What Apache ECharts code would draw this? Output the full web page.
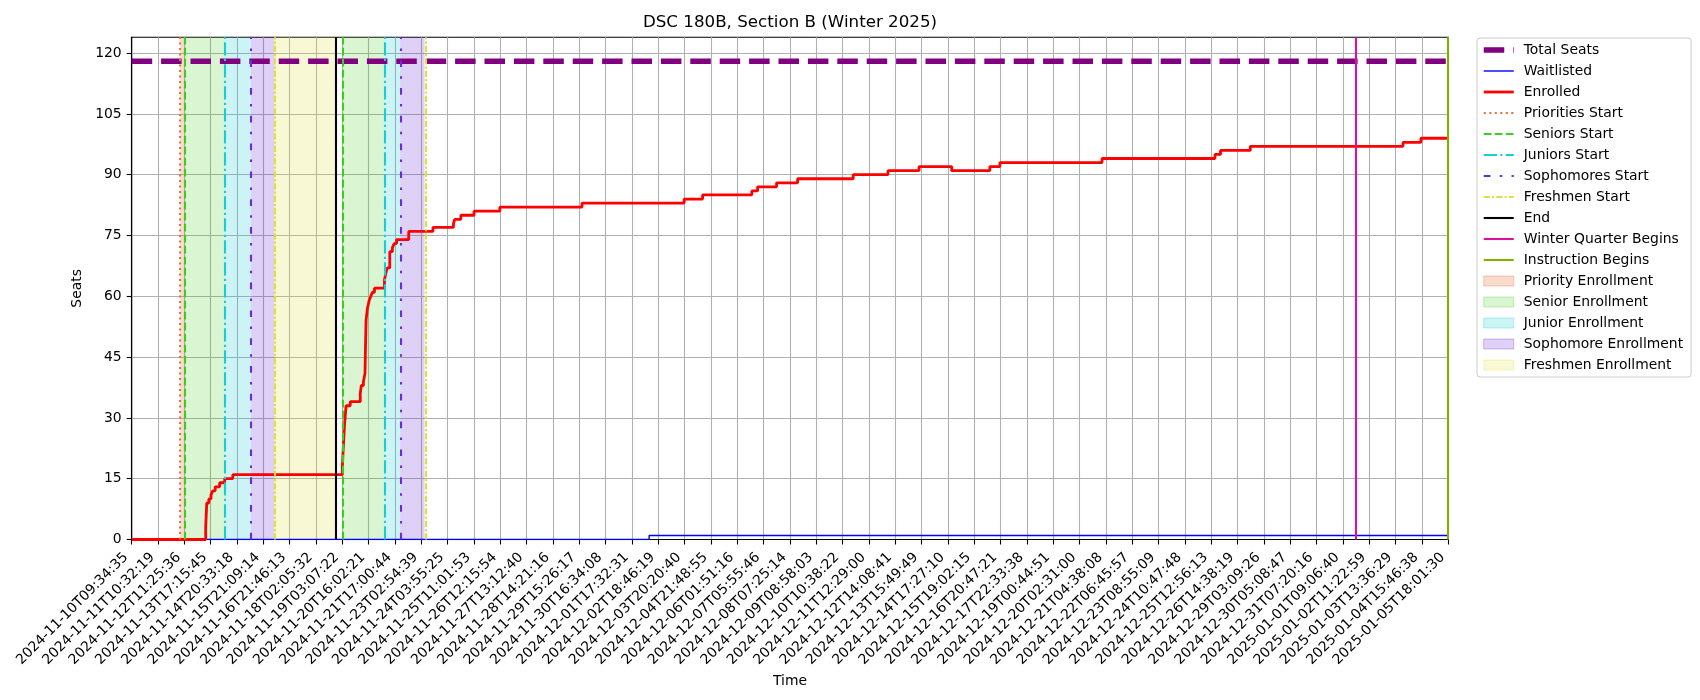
<!DOCTYPE html>
<html>
<head>
<meta charset="utf-8">
<script src="https://cdn.jsdelivr.net/npm/echarts@6/dist/echarts.min.js"></script>
<style>
html,body{margin:0;padding:0;background:#fff;}
#chart{width:1700px;height:700px;}
</style>
</head>
<body>
<div id="chart"></div>
<script>
// ---- Data (x positions in tick-index units along the sampled time axis) ----
const tickLabels = [
  '2024-11-10T09:34:35','2024-11-11T10:32:19','2024-11-12T11:25:36','2024-11-13T17:15:45',
  '2024-11-14T20:33:18','2024-11-15T21:09:14','2024-11-16T21:46:13','2024-11-18T02:05:32',
  '2024-11-19T03:07:22','2024-11-20T16:02:21','2024-11-21T17:00:44','2024-11-23T02:54:39',
  '2024-11-24T03:55:25','2024-11-25T11:01:53','2024-11-26T12:15:54','2024-11-27T13:12:40',
  '2024-11-28T14:21:16','2024-11-29T15:26:17','2024-11-30T16:34:08','2024-12-01T17:32:31',
  '2024-12-02T18:46:19','2024-12-03T20:20:40','2024-12-04T21:48:55','2024-12-06T01:51:16',
  '2024-12-07T05:55:46','2024-12-08T07:25:14','2024-12-09T08:58:03','2024-12-10T10:38:22',
  '2024-12-11T12:29:00','2024-12-12T14:08:41','2024-12-13T15:49:49','2024-12-14T17:27:10',
  '2024-12-15T19:02:15','2024-12-16T20:47:21','2024-12-17T22:33:38','2024-12-19T00:44:51',
  '2024-12-20T02:31:00','2024-12-21T04:38:08','2024-12-22T06:45:57','2024-12-23T08:55:09',
  '2024-12-24T10:47:48','2024-12-25T12:56:13','2024-12-26T14:38:19','2024-12-29T03:09:26',
  '2024-12-30T05:08:47','2024-12-31T07:20:16','2025-01-01T09:06:40','2025-01-02T11:22:59',
  '2025-01-03T13:36:29','2025-01-04T15:46:38','2025-01-05T18:01:30'
];
const yTicks = [0, 15, 30, 45, 60, 75, 90, 105, 120];

const enrolledX = [0, 2.81, 2.85, 2.93, 3.01, 3.08, 3.17, 3.34, 3.53, 3.84,
  8.0, 8.03, 8.08, 8.14, 8.3, 8.68, 8.72, 8.8, 8.86, 8.88, 8.9, 8.95, 9.02, 9.08, 9.14, 9.22,
  9.6, 9.66, 9.71, 9.8, 9.9, 9.97, 10.06, 10.52, 11.44, 12.22, 12.27, 12.5, 13.0, 13.98,
  17.1, 20.98, 21.68, 23.55, 23.77, 24.49, 25.29, 27.4, 28.72, 29.9, 31.14, 32.59, 32.97,
  36.85, 41.14, 41.35, 42.48, 48.28, 48.96, 50];
const enrolledY = [0, 3, 9, 10, 11, 12, 13, 14, 15, 16,
  18, 22, 28, 33, 34, 36, 38, 39, 41, 48, 54, 57, 59, 60, 61, 62,
  64, 66, 67, 71, 72, 73, 74, 76, 77, 78, 79, 80, 81, 82,
  83, 84, 85, 86, 87, 88, 89, 90, 91, 92, 91, 92, 93,
  94, 95, 96, 97, 98, 99, 99];

const waitlistX = [0, 19.65, 50];
const waitlistY = [0, 1, 1];

const totalSeats = 118;

const prioritiesStart = [1.84];
const seniorsStart = [2.0, 8.0];
const juniorsStart = [3.55, 9.6];
const sophomoresStart = [4.53, 10.2];
const freshmenStart = [5.42, 11.17];
const endMarks = [7.76];
const winterBegins = [46.5];
const instructionBegins = [49.97];

const priorityRegions = [[1.84, 2.0]];
const seniorRegions = [[2.0, 3.55], [8.0, 9.6]];
const juniorRegions = [[3.55, 4.53], [9.6, 10.2]];
const sophomoreRegions = [[4.53, 5.42], [10.2, 11.12]];
const freshmenRegions = [[5.42, 7.76]];

// ---- Styling helpers ----
const FONT = 'DejaVu Sans';
const FS = 13.9;

function pairs(xs, ys) { return xs.map((x, i) => [x, ys[i]]); }

function vlineSeries(name, xs, color, width, dash) {
  return {
    name: name, type: 'line', data: [], symbol: 'none', z: 5,
    itemStyle: { color: color }, lineStyle: { color: color, width: width, type: dash },
    markLine: {
      silent: true, symbol: ['none', 'none'], label: { show: false },
      lineStyle: { color: color, width: width, type: dash, opacity: 1 },
      emphasis: { disabled: true },
      data: xs.map(x => ({ xAxis: x }))
    }
  };
}
function regionSeries(name, ranges, rgba) {
  return {
    name: name, type: 'line', data: [], symbol: 'none', z: 1,
    itemStyle: { color: rgba }, lineStyle: { color: rgba, width: 0 },
    markArea: {
      silent: true, itemStyle: { color: rgba }, emphasis: { disabled: true },
      data: ranges.map(r => [{ xAxis: r[0] }, { xAxis: r[1] }])
    }
  };
}

const C = {
  pri: '#e8713c', sen: '#3fcc1f', jun: '#19cdd6', soph: '#6a2bd9', fresh: '#dfe03d',
  end: '#000000', winter: '#d9129b', instr: '#82b000'
};
const R = {
  pri: 'rgba(232,113,60,0.25)', sen: 'rgba(63,204,31,0.2)', jun: 'rgba(25,205,214,0.22)',
  soph: 'rgba(106,43,217,0.22)', fresh: 'rgba(223,224,61,0.22)'
};
const RB = {
  pri: 'rgba(232,113,60,0.35)', sen: 'rgba(63,204,31,0.3)', jun: 'rgba(25,205,214,0.3)',
  soph: 'rgba(106,43,217,0.3)', fresh: 'rgba(223,224,61,0.3)'
};

const series = [
  { name: 'Total Seats', type: 'line', symbol: 'none', z: 3,
    data: [[0, totalSeats], [50, totalSeats]],
    itemStyle: { color: '#800080' }, lineStyle: { color: '#800080', width: 5.5, type: [20.5, 8.9] } },
  { name: 'Waitlisted', type: 'line', symbol: 'none', step: 'end', z: 3,
    data: pairs(waitlistX, waitlistY),
    itemStyle: { color: '#0000ff' }, lineStyle: { color: '#0000ff', width: 1.4 } },
  { name: 'Enrolled', type: 'line', symbol: 'none', step: 'end', z: 4,
    data: pairs(enrolledX, enrolledY),
    itemStyle: { color: '#ff0000' }, lineStyle: { color: '#ff0000', width: 2.8 } },
  vlineSeries('Priorities Start', prioritiesStart, C.pri, 2.08, [2.1, 3.4]),
  vlineSeries('Seniors Start', seniorsStart, C.sen, 2.08, [7.7, 3.3]),
  vlineSeries('Juniors Start', juniorsStart, C.jun, 2.08, [13.3, 3.3, 2.1, 3.3]),
  vlineSeries('Sophomores Start', sophomoresStart, C.soph, 2.08, [6.7, 9.3, 2.5, 9.3]),
  vlineSeries('Freshmen Start', freshmenStart, C.fresh, 2.08, [6.2, 2.1, 2.1, 2.1]),
  vlineSeries('End', endMarks, C.end, 2.08, 'solid'),
  vlineSeries('Winter Quarter Begins', winterBegins, C.winter, 2.08, 'solid'),
  vlineSeries('Instruction Begins', instructionBegins, C.instr, 2.08, 'solid'),
  regionSeries('Priority Enrollment', priorityRegions, R.pri),
  regionSeries('Senior Enrollment', seniorRegions, R.sen),
  regionSeries('Junior Enrollment', juniorRegions, R.jun),
  regionSeries('Sophomore Enrollment', sophomoreRegions, R.soph),
  regionSeries('Freshmen Enrollment', freshmenRegions, R.fresh)
];

const legendData = series.map(s => {
  const key = { 'Priority Enrollment': 'pri', 'Senior Enrollment': 'sen', 'Junior Enrollment': 'jun',
    'Sophomore Enrollment': 'soph', 'Freshmen Enrollment': 'fresh' }[s.name];
  if (key) {
    return { name: s.name, icon: 'rect', itemStyle: { color: R[key], borderColor: RB[key], borderWidth: 1, opacity: 1 } };
  }
  return { name: s.name,
    itemStyle: { opacity: 0, color: 'transparent', borderColor: 'transparent' },
    lineStyle: { width: s.lineStyle.width, color: s.lineStyle.color, type: s.lineStyle.type } };
});

const chart = echarts.init(document.getElementById('chart'), null, { renderer: 'canvas' });
chart.setOption({
  animation: false,
  backgroundColor: '#ffffff',
  textStyle: { fontFamily: FONT },
  title: {
    text: 'DSC 180B, Section B (Winter 2025)', left: 790, top: 14, padding: 0, textAlign: 'center',
    textStyle: { fontFamily: FONT, fontSize: 16.7, fontWeight: 'normal', color: '#000' }
  },
  legend: {
    orient: 'vertical', left: 1477, top: 38, itemWidth: 30, itemHeight: 10, itemGap: 7,
    padding: [5, 8, 5, 4], borderColor: '#cccccc', borderWidth: 1, borderRadius: 3,
    backgroundColor: '#ffffff', selectedMode: false,
    textStyle: { fontFamily: FONT, fontSize: FS, color: '#000', lineHeight: 14, padding: [0, 0, 0, 5] },
    data: legendData
  },
  grid: {
    left: 131.7, right: 251.7, top: 37.3, bottom: 160.5,
    show: true, borderColor: '#000', borderWidth: 1.1, backgroundColor: 'transparent'
  },
  xAxis: {
    type: 'value', min: 0, max: tickLabels.length - 1, interval: 1,
    name: 'Time', nameLocation: 'middle', nameGap: 127,
    nameTextStyle: { fontFamily: FONT, fontSize: FS, color: '#000' },
    axisLine: { show: true, onZero: false, lineStyle: { color: '#000', width: 1.1 } },
    axisTick: { show: true, length: 5, lineStyle: { color: '#000', width: 1.1 } },
    splitLine: { show: true, lineStyle: { color: '#b0b0b0', width: 1.1 } },
    axisLabel: {
      rotate: 45, margin: 10, padding: [0, 8, 0, 0], fontFamily: FONT, fontSize: FS, color: '#000',
      formatter: v => { const i = Math.round(v); return Math.abs(v - i) < 1e-6 ? (tickLabels[i] || '') : ''; }
    }
  },
  yAxis: {
    type: 'value', min: 0, max: 123.9, interval: 15,
    name: 'Seats', nameLocation: 'middle', nameGap: 37,
    nameTextStyle: { fontFamily: FONT, fontSize: FS, color: '#000' },
    axisLine: { show: true, lineStyle: { color: '#000', width: 1.1 } },
    axisTick: { show: true, length: 5, lineStyle: { color: '#000', width: 1.1 }, customValues: yTicks },
    splitLine: { show: true, lineStyle: { color: '#b0b0b0', width: 1.1 } },
    axisLabel: {
      margin: 10, fontFamily: FONT, fontSize: FS, color: '#000',
      customValues: yTicks
    }
  },
  series: series
});
</script>
</body>
</html>
